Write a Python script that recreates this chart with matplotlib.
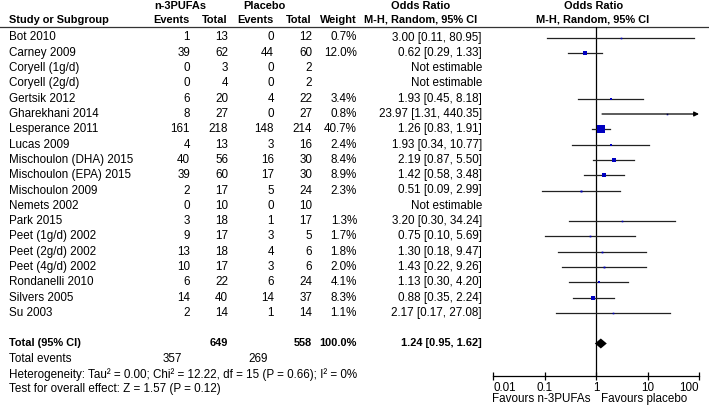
import numpy as np
import matplotlib.pyplot as plt

plt.rcParams['font.family'] = ['Liberation Sans', 'DejaVu Sans']

# study data
studies = ["Bot 2010", "Carney 2009", "Coryell (1g/d)", "Coryell (2g/d)", "Gertsik 2012",
           "Gharekhani 2014", "Lesperance 2011", "Lucas 2009", "Mischoulon (DHA) 2015",
           "Mischoulon (EPA) 2015", "Mischoulon 2009", "Nemets 2002", "Park 2015",
           "Peet (1g/d) 2002", "Peet (2g/d) 2002", "Peet (4g/d) 2002", "Rondanelli 2010",
           "Silvers 2005", "Su 2003"]
n3_events = [1, 39, 0, 0, 6, 8, 161, 4, 40, 39, 2, 0, 3, 9, 13, 10, 6, 14, 2]
n3_total = [13, 62, 3, 4, 20, 27, 218, 13, 56, 60, 17, 10, 18, 17, 18, 17, 22, 40, 14]
pl_events = [0, 44, 0, 0, 4, 0, 148, 3, 16, 17, 5, 0, 1, 3, 4, 3, 6, 14, 1]
pl_total = [12, 60, 2, 2, 22, 27, 214, 16, 30, 30, 24, 10, 17, 5, 6, 6, 24, 37, 14]
weight = [0.7, 12.0, None, None, 3.4, 0.8, 40.7, 2.4, 8.4, 8.9, 2.3, None, 1.3,
          1.7, 1.8, 2.0, 4.1, 8.3, 1.1]
odds = [3.00, 0.62, None, None, 1.93, 23.97, 1.26, 1.93, 2.19, 1.42, 0.51, None, 3.20,
        0.75, 1.30, 1.43, 1.13, 0.88, 2.17]
ci_low = [0.11, 0.29, None, None, 0.45, 1.31, 0.83, 0.34, 0.87, 0.58, 0.09, None, 0.30,
          0.10, 0.18, 0.22, 0.30, 0.35, 0.17]
ci_high = [80.95, 1.33, None, None, 8.18, 440.35, 1.91, 10.77, 5.50, 3.48, 2.99, None, 34.24,
           5.69, 9.47, 9.26, 4.20, 2.24, 27.08]

total_n3 = 649
total_pl = 558
events_n3 = 357
events_pl = 269
pooled = [1.24, 0.95, 1.62]
heterogeneity = "Heterogeneity: Tau\u00b2 = 0.00; Chi\u00b2 = 12.22, df = 15 (P = 0.66); I\u00b2 = 0%"
overall = "Test for overall effect: Z = 1.57 (P = 0.12)"
xticks = [0.01, 0.1, 1, 10, 100]
xticklabels = ["0.01", "0.1", "1", "10", "100"]

W, H = 709, 405
fs = 8.4
fb = 7.9  # bold text is narrower in the original
blue = '#0000C0'
y0, dy = 37.5, 15.3
rows = [y0 + i * dy for i in range(len(studies))]
y_total = y0 + 20 * dy

fig = plt.figure(figsize=(W / 100, H / 100), dpi=100)

# table part, in pixel coordinates
ax = fig.add_axes([0, 0, 1, 1])
ax.set_xlim(0, W)
ax.set_ylim(H, 0)
ax.axis('off')

x_name = 9
col_ev1, col_tot1, col_ev2, col_tot2, col_w, col_or = 190, 228, 274, 312, 357, 482

ax.text(180, 6, "n-3PUFAs", ha='center', va='center', fontsize=fb, fontweight='bold')
ax.text(264, 6, "Placebo", ha='center', va='center', fontsize=fb, fontweight='bold')
ax.text(421, 6, "Odds Ratio", ha='center', va='center', fontsize=fb, fontweight='bold')
ax.text(594, 6, "Odds Ratio", ha='center', va='center', fontsize=fb, fontweight='bold')
ax.text(x_name, 20, "Study or Subgroup", ha='left', va='center', fontsize=fb, fontweight='bold')
for x, s in [(col_ev1, "Events"), (col_tot1, "Total"), (col_ev2, "Events"),
             (col_tot2, "Total"), (col_w, "Weight")]:
    ax.text(x, 20, s, ha='right', va='center', fontsize=fb, fontweight='bold')
ax.text(421, 20, "M-H, Random, 95% CI", ha='center', va='center', fontsize=fb, fontweight='bold')
ax.text(593, 20, "M-H, Random, 95% CI", ha='center', va='center', fontsize=fb, fontweight='bold')
ax.plot([0, W], [27, 27], color='#333333', lw=0.9)

for i, y in enumerate(rows):
    ax.text(x_name, y, studies[i], ha='left', va='center', fontsize=fs)
    ax.text(col_ev1, y, str(n3_events[i]), ha='right', va='center', fontsize=fs)
    ax.text(col_tot1, y, str(n3_total[i]), ha='right', va='center', fontsize=fs)
    ax.text(col_ev2, y, str(pl_events[i]), ha='right', va='center', fontsize=fs)
    ax.text(col_tot2, y, str(pl_total[i]), ha='right', va='center', fontsize=fs)
    if weight[i] is not None:
        ax.text(col_w, y, "%.1f%%" % weight[i], ha='right', va='center', fontsize=fs)
        s = "%.2f [%.2f, %.2f]" % (odds[i], ci_low[i], ci_high[i])
    else:
        s = "Not estimable"
    ax.text(col_or, y, s, ha='right', va='center', fontsize=fs)

ax.text(x_name, y_total, "Total (95% CI)", ha='left', va='center', fontsize=fb, fontweight='bold')
ax.text(col_tot1, y_total, str(total_n3), ha='right', va='center', fontsize=fb, fontweight='bold')
ax.text(col_tot2, y_total, str(total_pl), ha='right', va='center', fontsize=fb, fontweight='bold')
ax.text(col_w, y_total, "100.0%", ha='right', va='center', fontsize=fb, fontweight='bold')
ax.text(col_or, y_total, "%.2f [%.2f, %.2f]" % tuple(pooled), ha='right', va='center',
        fontsize=fb, fontweight='bold')
ax.text(x_name, y_total + dy, "Total events", ha='left', va='center', fontsize=fs)
ax.text(182, y_total + dy, str(events_n3), ha='right', va='center', fontsize=fs)
ax.text(268, y_total + dy, str(events_pl), ha='right', va='center', fontsize=fs)
ax.text(x_name, y_total + 2 * dy, heterogeneity, ha='left', va='center', fontsize=fs)
ax.text(x_name, y_total + 3 * dy, overall, ha='left', va='center', fontsize=fs)

ax.text(590, 399, "Favours n-3PUFAs", ha='right', va='center', fontsize=fs)
ax.text(601, 399, "Favours placebo", ha='left', va='center', fontsize=fs)

# forest part: log x axis, y in the same pixel rows
x_left, x_right, y_top, y_bot = 493, 699, 27, 376
axf = fig.add_axes([x_left / W, 1 - y_bot / H, (x_right - x_left) / W, (y_bot - y_top) / H])
axf.set_xscale('log')
axf.set_xlim(0.01, 100)
axf.set_ylim(y_bot, y_top)
axf.patch.set_alpha(0)
for side in ['top', 'left', 'right']:
    axf.spines[side].set_visible(False)
axf.spines['bottom'].set_linewidth(0.9)
axf.set_yticks([])
axf.set_xticks(xticks)
axf.set_xticklabels(xticklabels, fontsize=fs)
axf.minorticks_off()
axf.tick_params(axis='x', direction='inout', length=6, width=0.9, pad=1)
labels = axf.get_xticklabels()
labels[0].set_ha('left')
labels[-1].set_ha('right')

axf.axvline(1, color='black', lw=0.9)

for i, y in enumerate(rows):
    if odds[i] is None:
        continue
    if ci_high[i] > 100:
        axf.annotate('', xy=(100, y), xytext=(ci_low[i], y),
                     arrowprops=dict(arrowstyle='-|>', color='black', lw=0.9,
                                     mutation_scale=7, shrinkA=0, shrinkB=0))
    else:
        axf.plot([ci_low[i], ci_high[i]], [y, y], color='#222222', lw=0.9)
    side = max(1.6, 8.3 * np.sqrt(weight[i] / 40.7)) * 0.72
    axf.plot(odds[i], y, marker='s', ms=side, color=blue, mec=blue, mew=0)

axf.fill([pooled[1], pooled[0], pooled[2], pooled[0]],
         [y_total, y_total - 5, y_total, y_total + 5], color='black', lw=0)

fig.savefig("out.png", dpi=100)
